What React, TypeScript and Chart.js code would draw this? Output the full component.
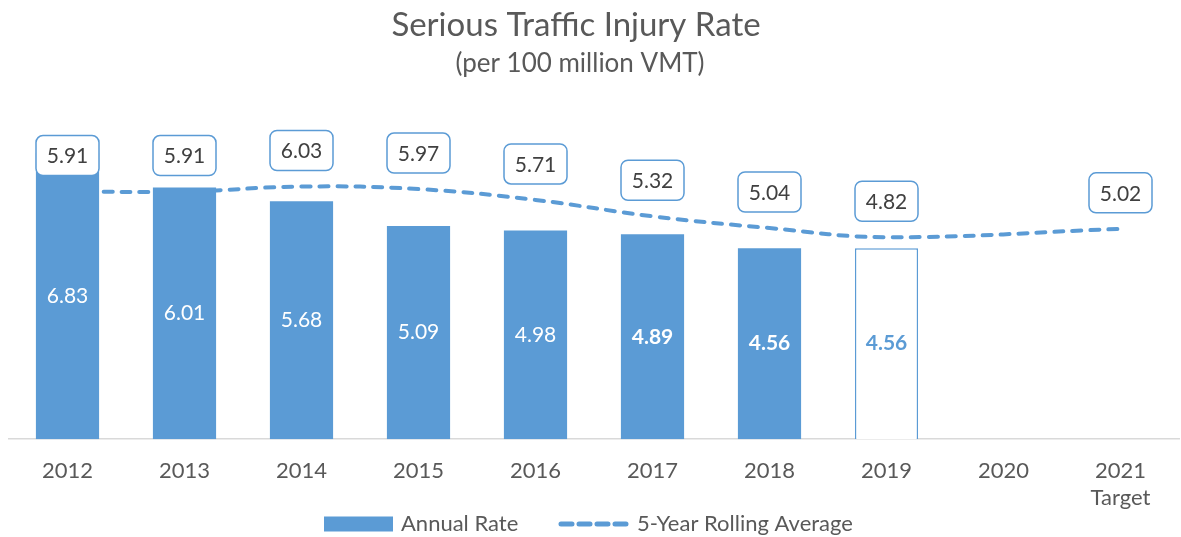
import React, { useEffect, useRef } from "react";
import { Chart, registerables } from "chart.js";

Chart.register(...registerables);

const years: (string | string[])[] = ["2012", "2013", "2014", "2015", "2016", "2017", "2018", "2019", "2020", ["2021", "Target"]];
const annualRate: (number | null)[] = [6.83, 6.01, 5.68, 5.09, 4.98, 4.89, 4.56, 4.56, null, null];
const rollingAvg: (number | null)[] = [5.91, 5.91, 6.03, 5.97, 5.71, 5.32, 5.04, 4.82, null, 5.02];
const boldLabelIdx: number[] = [5, 6, 7];
const outlineBarIdx: number[] = [7];
const titleText = "Serious Traffic Injury Rate";
const subtitleText = "(per 100 million VMT)";

const BLUE = "#5b9bd5";
const GRAY = "#595959";
const DARK = "#404040";
const FONT = "Lato, 'Open Sans', sans-serif";

const labelPlugin = {
  id: "valueLabels",
  afterDatasetsDraw(chart: any) {
    const ctx = chart.ctx;
    ctx.save();
    const barMeta = chart.getDatasetMeta(0);
    barMeta.data.forEach((el: any, i: number) => {
      const v = annualRate[i];
      if (v == null) return;
      const bold = boldLabelIdx.includes(i);
      ctx.font = `${bold ? "bold " : ""}21px ${FONT}`;
      ctx.fillStyle = outlineBarIdx.includes(i) ? BLUE : "#ffffff";
      ctx.textAlign = "center";
      ctx.textBaseline = "middle";
      ctx.fillText(v.toFixed(2), el.x, (el.y + el.base) / 2);
    });
    const lineMeta = chart.getDatasetMeta(1);
    lineMeta.data.forEach((el: any, i: number) => {
      const v = rollingAvg[i];
      if (v == null) return;
      const w = 63, h = 40;
      const cx = el.x, cy = el.y - 36;
      ctx.beginPath();
      ctx.roundRect(cx - w / 2, cy - h / 2, w, h, 7);
      ctx.fillStyle = "#ffffff";
      ctx.fill();
      ctx.lineWidth = 1.5;
      ctx.strokeStyle = BLUE;
      ctx.stroke();
      ctx.font = `21px ${FONT}`;
      ctx.fillStyle = DARK;
      ctx.textAlign = "center";
      ctx.textBaseline = "middle";
      ctx.fillText(v.toFixed(2), cx, cy + 1);
    });
    ctx.restore();
  },
  afterDraw(chart: any) {
    const ctx = chart.ctx;
    ctx.save();
    // titles
    ctx.fillStyle = GRAY;
    ctx.textAlign = "center";
    ctx.textBaseline = "middle";
    ctx.font = `33px ${FONT}`;
    ctx.fillText(titleText, 576, 25);
    ctx.font = `26px ${FONT}`;
    ctx.fillText(subtitleText, 580, 64);
    // legend
    const y = 524;
    ctx.fillStyle = BLUE;
    ctx.fillRect(324, y - 7.5, 69, 15);
    ctx.font = `22px ${FONT}`;
    ctx.fillStyle = GRAY;
    ctx.textAlign = "left";
    ctx.fillText("Annual Rate", 401, y);
    ctx.beginPath();
    ctx.setLineDash([11, 7]);
    ctx.lineCap = "round";
    ctx.lineWidth = 5;
    ctx.strokeStyle = BLUE;
    ctx.moveTo(561, y);
    ctx.lineTo(626, y);
    ctx.stroke();
    ctx.setLineDash([]);
    ctx.fillText("5-Year Rolling Average", 637, y);
    ctx.restore();
  },
};

export default function App() {
  const ref = useRef<HTMLCanvasElement>(null);
  useEffect(() => {
    if (!ref.current) return;
    const chart = new Chart(ref.current, {
      type: "bar",
      data: {
        labels: years,
        datasets: [
          {
            type: "bar",
            label: "Annual Rate",
            data: annualRate,
            backgroundColor: annualRate.map((_, i) => (outlineBarIdx.includes(i) ? "#ffffff" : BLUE)),
            borderColor: BLUE,
            borderWidth: annualRate.map((_, i) => (outlineBarIdx.includes(i) ? 1.5 : 0)),
            barPercentage: 1,
            categoryPercentage: 0.54,
            order: 1,
          },
          {
            type: "line",
            label: "5-Year Rolling Average",
            data: rollingAvg,
            borderColor: BLUE,
            borderWidth: 4,
            borderDash: [9, 9],
            borderCapStyle: "round",
            tension: 0.4,
            spanGaps: true,
            pointRadius: 0,
            fill: false,
            order: 2,
          },
        ],
      },
      options: {
        responsive: false,
        animation: false,
        layout: { padding: { left: 9, right: 2, top: 104, bottom: 7 } },
        plugins: {
          legend: { display: false },
          tooltip: { enabled: false },
          title: { display: false },
        },
        scales: {
          x: {
            grid: { display: false, drawTicks: false },
            border: { display: true, color: "#d9d9d9", width: 1.5 },
            ticks: { color: GRAY, font: { family: FONT, size: 22 }, padding: 19, maxRotation: 0 },
          },
          y: {
            display: false,
            min: 0,
            max: 8,
          },
        },
      },
      plugins: [labelPlugin],
    });
    return () => chart.destroy();
  }, []);
  return (
    <div style={{ position: "absolute", left: 0, top: 0, width: 1181, height: 537, background: "#fff" }}>
      <canvas ref={ref} width={1181} height={537} />
    </div>
  );
}
